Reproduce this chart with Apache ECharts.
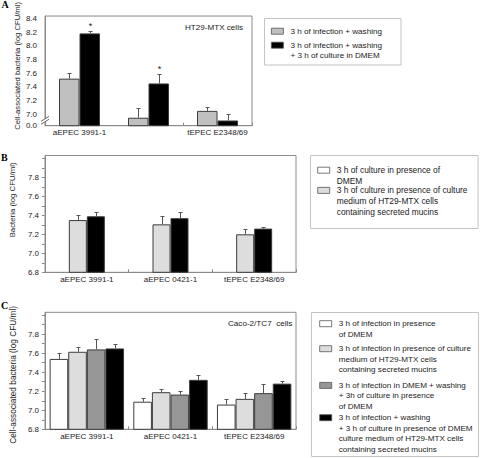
<!DOCTYPE html>
<html><head><meta charset="utf-8">
<script src="https://cdn.jsdelivr.net/npm/echarts@6/dist/echarts.min.js"></script>
<style>html,body{margin:0;padding:0;background:#fff}#c{width:480px;height:458px}</style>
</head><body><div id="c"></div>
<script>
// ---------- data ----------
const categories = ['aEPEC 3991-1', 'aEPEC 0421-1', 'tEPEC E2348/69'];

// Panel A (HT29-MTX cells)
const aWash = [7.52, 6.95, 7.05];
const aWashErr = [7.60, 7.09, 7.10];
const aWashDMEM = [8.18, 7.45, 6.91];
const aWashDMEMErr = [8.21, 7.59, 7.00];
const aSignificant = [1, 1, 0];
const aBreak = 6.834;            // axis bottom, labelled 0.0
const aTicks = [6.834, 7.0, 7.2, 7.4, 7.6, 7.8, 8.0, 8.2, 8.4];

// Panel B
const bDMEM = [7.35, 7.305, 7.20];
const bDMEMErr = [7.40, 7.39, 7.26];
const bMucins = [7.39, 7.37, 7.26];
const bMucinsErr = [7.44, 7.43, 7.28];

// Panel C (Caco-2/TC7 cells)
const cDMEM = [7.54, 7.09, 7.06];
const cDMEMErr = [7.60, 7.13, 7.115];
const cMucins = [7.615, 7.19, 7.12];
const cMucinsErr = [7.66, 7.22, 7.18];
const cWashDMEM = [7.64, 7.165, 7.18];
const cWashDMEMErr = [7.75, 7.20, 7.28];
const cWashMucins = [7.65, 7.32, 7.28];
const cWashMucinsErr = [7.70, 7.37, 7.305];

const bcLabels = [6.8, 7.0, 7.2, 7.4, 7.6, 7.8];
const bcTicks = [6.8, 6.9, 7.0, 7.1, 7.2, 7.3, 7.4, 7.5, 7.6, 7.7, 7.8, 7.9, 8.0];

const namesA = ['3 h of infection + washing', '3 h of infection + washing\n+ 3 h of culture in DMEM'];
const namesB = ['3 h of culture in presence of\nDMEM', '3 h of culture in presence of culture\nmedium of HT29-MTX cells\ncontaining secreted mucins'];
const namesC = ['3 h of infection in presence\nof DMEM',
  '3 h of infection in presence of culture\nmedium of HT29-MTX cells\ncontaining secreted mucins',
  '3 h of infection in DMEM + washing\n+ 3h of culture in presence\nof DMEM',
  '3 h of infection + washing\n+ 3 h of culture in presence of DMEM\nculture medium of HT29-MTX cells\ncontaining secreted mucins'];

// ---------- styling ----------
const FONT = 'Liberation Sans, Arial, sans-serif';
const TXT = '#222';
const AX = '#8a8a8a';
const EDGE = '#3c3c3c';
const LH = 10.6;

const chart = echarts.init(document.getElementById('c'), null, {renderer: 'svg'});

function errRender(n, barW) {
  return function (params, api) {
    const cat = api.value(0), k = api.value(1);
    const p0 = api.coord([cat, api.value(2)]);
    const p1 = api.coord([cat, api.value(3)]);
    const x = Math.round(p0[0] + (k - (n - 1) / 2) * barW) + 0.5;
    const y1 = Math.round(p1[1]) + 0.5;
    const ch = [
      {type: 'line', shape: {x1: x, y1: p0[1], x2: x, y2: y1}, style: {stroke: '#555', lineWidth: 1}},
      {type: 'line', shape: {x1: x - 2, y1: y1, x2: x + 2, y2: y1}, style: {stroke: '#555', lineWidth: 1}}
    ];
    if (api.value(4)) ch.push({type: 'text', style: {text: '*', x: x, y: y1 - 1, align: 'center', verticalAlign: 'bottom', font: '9px ' + FONT, fill: TXT}});
    return {type: 'group', children: ch};
  };
}
function errData(list, stars) {
  const out = [];
  list.forEach((pair, k) => {
    pair[0].forEach((v, i) => out.push([i, k, v, pair[1][i], stars && stars[k] ? stars[k][i] : 0]));
  });
  return out;
}

function xAxis(grid) {
  return {
    type: 'category', gridIndex: grid, data: categories,
    axisLine: {lineStyle: {color: AX}},
    axisTick: {show: true, inside: true, length: 3, lineStyle: {color: AX}},
    axisLabel: {color: TXT, fontSize: 8, fontFamily: FONT, margin: 3}
  };
}
function yAxisBC(grid, name, fontSize, pad) {
  return {
    type: 'value', gridIndex: grid, min: 6.8, max: 8.03,
    splitLine: {show: false},
    axisLine: {show: true, lineStyle: {color: AX}},
    axisTick: {show: true, length: 3, customValues: bcTicks, lineStyle: {color: AX}},
    axisLabel: {color: TXT, fontSize: 8, fontFamily: FONT, margin: 6, customValues: bcLabels, formatter: v => v.toFixed(1)},
    name: name, nameLocation: 'middle', nameGap: 24,
    nameTextStyle: {color: TXT, fontSize: fontSize, fontFamily: FONT, padding: pad}
  };
}
function bar(name, grid, data, color, w) {
  return {
    type: 'bar', name: name, xAxisIndex: grid, yAxisIndex: grid, data: data,
    barWidth: w, barGap: '0%',
    itemStyle: {color: color, borderColor: EDGE, borderWidth: 1},
    emphasis: {disabled: true}, silent: true
  };
}
function legendItem(name, left, top, lines, color, fs) {
  const H = lines * LH;
  const c = LH / 2;
  const d = {name: name, icon: 'path://M0,' + (c - 3) + 'H12V' + (c + 3) + 'H0Z M14,0 M0,' + H};
  const st = {borderColor: '#555', borderWidth: 0.8};
  if (color) st.color = color;
  d.itemStyle = st;
  return {
    left: left, top: top, orient: 'vertical', padding: 0,
    itemWidth: 14, itemHeight: H, selectedMode: false,
    data: [d],
    textStyle: {color: TXT, fontSize: fs || 8.1, fontFamily: FONT, lineHeight: LH, padding: [0, 0, 0, 0]}
  };
}

const grids = [
  {left: 45, top: 16, width: 207, height: 109.7},
  {left: 45, top: 155.5, width: 251, height: 116.8},
  {left: 45, top: 312.3, width: 251, height: 117}
].map(g => Object.assign(g, {show: true, borderColor: AX, borderWidth: 1, containLabel: false}));

const option = {
  animation: false,
  backgroundColor: '#fff',
  grid: grids,
  xAxis: [xAxis(0), xAxis(1), xAxis(2)],
  yAxis: [
    {
      type: 'value', gridIndex: 0, min: aBreak, max: 8.433,
      splitLine: {show: false},
      axisLine: {show: true, lineStyle: {color: AX}},
      axisTick: {show: false},
      axisLabel: {color: TXT, fontSize: 8, fontFamily: FONT, margin: 8, customValues: aTicks,
        formatter: v => (Math.abs(v - aBreak) < 1e-6 ? '0.0' : v.toFixed(1))},
      name: 'Cell-associated bacteria (log CFU/ml)', nameLocation: 'middle', nameGap: 24,
      nameTextStyle: {color: TXT, fontSize: 7.7, fontFamily: FONT, padding: [0, 0, 0, 10]}
    },
    yAxisBC(1, 'Bacteria (log CFU/ml)', 7.8, [0, 0, 0, 28]),
    yAxisBC(2, 'Cell-associated bacteria (log CFU/ml)', 8.3, [0, 8, 0, 0])
  ],
  legend: [
    legendItem(namesA[0], 271, 25.5, 1),
    legendItem(namesA[1], 271, 39.5, 2),
    legendItem(namesB[0], 317.3, 164.5, 2, '#ffffff', 8.4),
    legendItem(namesB[1], 317.3, 184.7, 3, '#dddddd', 8.4),
    legendItem(namesC[0], 319.3, 318, 2),
    legendItem(namesC[1], 319.3, 343, 3),
    legendItem(namesC[2], 319.3, 379.7, 3),
    legendItem(namesC[3], 319.3, 412, 4)
  ],
  series: [
    bar(namesA[0], 0, aWash, '#c0c0c0', 20.5),
    bar(namesA[1], 0, aWashDMEM, '#000000', 20.5),
    bar(namesB[0], 1, bDMEM, '#dddddd', 18),
    bar(namesB[1], 1, bMucins, '#000000', 18),
    bar(namesC[0], 2, cDMEM, '#ffffff', 18.6),
    bar(namesC[1], 2, cMucins, '#dddddd', 18.6),
    bar(namesC[2], 2, cWashDMEM, '#969696', 18.6),
    bar(namesC[3], 2, cWashMucins, '#000000', 18.6),
    {type: 'custom', xAxisIndex: 0, yAxisIndex: 0, z: 5, silent: true, encode: {x: 0, y: 3},
      renderItem: errRender(2, 20.5),
      data: errData([[aWash, aWashErr], [aWashDMEM, aWashDMEMErr]], [[0, 0, 0], aSignificant])},
    {type: 'custom', xAxisIndex: 1, yAxisIndex: 1, z: 5, silent: true, encode: {x: 0, y: 3},
      renderItem: errRender(2, 18),
      data: errData([[bDMEM, bDMEMErr], [bMucins, bMucinsErr]])},
    {type: 'custom', xAxisIndex: 2, yAxisIndex: 2, z: 5, silent: true, encode: {x: 0, y: 3},
      renderItem: errRender(4, 18.6),
      data: errData([[cDMEM, cDMEMErr], [cMucins, cMucinsErr], [cWashDMEM, cWashDMEMErr], [cWashMucins, cWashMucinsErr]])}
  ],
  graphic: [
    {type: 'rect', shape: {x: 264.5, y: 18.5, width: 136.5, height: 46.5}, style: {fill: 'none', stroke: '#c4c4c4', lineWidth: 1}, z: -1},
    {type: 'rect', shape: {x: 310.5, y: 155.5, width: 167.5, height: 73}, style: {fill: 'none', stroke: '#c4c4c4', lineWidth: 1}, z: -1},
    {type: 'rect', shape: {x: 311.5, y: 312.5, width: 167, height: 144}, style: {fill: 'none', stroke: '#c4c4c4', lineWidth: 1}, z: -1},
    {type: 'text', left: 185, top: 23, style: {text: 'HT29-MTX cells', font: '8.1px ' + FONT, fill: TXT}},
    {type: 'text', left: 228, top: 319, style: {text: 'Caco-2/TC7  cells', font: '8.1px ' + FONT, fill: TXT}},
    {type: 'text', left: 1.5, top: -1, style: {text: 'A', font: 'bold 10px Liberation Serif, serif', fill: '#000'}},
    {type: 'text', left: 1, top: 152, style: {text: 'B', font: 'bold 10px Liberation Serif, serif', fill: '#000'}},
    {type: 'text', left: 1, top: 300, style: {text: 'C', font: 'bold 10px Liberation Serif, serif', fill: '#000'}}
  ]
};
chart.setOption(option);

// axis break mark on panel A
const by = chart.convertToPixel({yAxisIndex: 0}, 6.92);
chart.setOption({graphic: option.graphic.concat([
  {type: 'polygon', shape: {points: [[41, by + 1.5], [49, by - 3.5], [49, by - 0.5], [41, by + 4.5]]}, style: {fill: '#fff'}, z: 10},
  {type: 'line', shape: {x1: 41, y1: by + 1.5, x2: 49, y2: by - 3.5}, style: {stroke: '#555', lineWidth: 0.9}, z: 11},
  {type: 'line', shape: {x1: 41, y1: by + 4.5, x2: 49, y2: by - 0.5}, style: {stroke: '#555', lineWidth: 0.9}, z: 11}
])});
</script></body></html>
